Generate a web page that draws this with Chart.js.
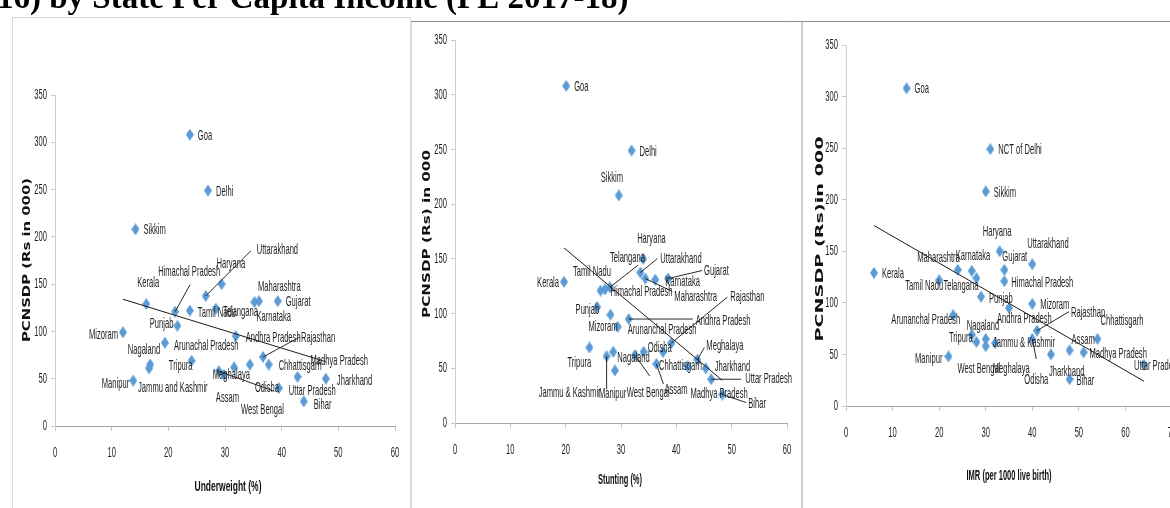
<!DOCTYPE html>
<html>
<head>
<meta charset="utf-8">
<script src="https://cdn.jsdelivr.net/npm/chart.js@4.4.1/dist/chart.umd.min.js"></script>
<style>
html, body { margin: 0; padding: 0; background: #fff; width: 1170px; height: 508px; overflow: hidden; }
canvas { position: absolute; top: 0; }
</style>
</head>
<body>
<canvas id="bg" width="1170" height="508" style="left:0"></canvas>
<canvas id="c1" width="411" height="508" style="left:0"></canvas>
<canvas id="c2" width="391" height="508" style="left:411px"></canvas>
<canvas id="c3" width="380" height="508" style="left:803px"></canvas>
<script>
// 주(州)별 데이터 — 그림에서 읽은 값
const states = ['Goa', 'Delhi', 'Sikkim', 'Haryana', 'Uttarakhand', 'Gujarat', 'Maharashtra', 'Karnataka',
  'Kerala', 'Telangana', 'Tamil Nadu', 'Himachal Pradesh', 'Punjab', 'Mizoram', 'Andhra Pradesh',
  'Arunachal Pradesh', 'Rajasthan', 'Tripura', 'Odisha', 'Chhattisgarh', 'Nagaland', 'West Bengal',
  'Jammu and Kashmir', 'Meghalaya', 'Assam', 'Madhya Pradesh', 'Jharkhand', 'Manipur', 'Uttar Pradesh', 'Bihar'];
const pcnsdp = [308, 249, 208, 150, 137.5, 132, 132, 131, 129, 124, 122, 121, 106, 99, 95,
  88, 73, 69, 65, 65, 65, 62, 61, 58, 54, 52, 50, 48, 40, 26];
const underweight = [23.8, 27, 14.2, 29.4, 26.6, 39.3, 36, 35.2, 16.1, 28.4, 23.8, 21.2, 21.6, 12, 31.9,
  19.4, 36.7, 24.1, 34.4, 37.7, 16.8, 31.6, 16.6, 28.9, 29.8, 42.8, 47.8, 13.8, 39.5, 43.9];
const stunting = [20.1, 31.9, 29.6, 34, 33.5, 38.5, 34.4, 36.2, 19.7, 28, 27.1, 26.3, 25.7, 28.1, 31.4,
  29.4, 39.1, 24.3, 34.1, 37.6, 28.6, 32.5, 27.4, 43.8, 36.4, 42, 45.3, 28.9, 46.3, 48.3];
const imr = [13, 31, 30, 33, 40, 34, 24, 27, 6, 28, 20, 34, 29, 40, 35,
  23, 41, 27, 40, 54, 30, 28, 32, 30, 48, 51, 44, 22, 64, 48];

// 추세선 (양 끝점)
const trend1X = [12, 47.8], trend1Y = [134, 68];
const trend2X = [19.7, 48.3], trend2Y = [160, 39];
const trend3X = [6, 64], trend3Y = [175, 24];

const yTicks = [0, 50, 100, 150, 200, 250, 300, 350];
const xTicks1 = [0, 10, 20, 30, 40, 50, 60];
const xTicks3 = [0, 10, 20, 30, 40, 50, 60, 70];

// 패널마다 라벨 이름이 조금씩 다름
const names1 = states.slice();
const names2 = states.map(s => s === 'Jammu and Kashmir' ? 'Jammu & Kashmir' : s === 'Arunachal Pradesh' ? 'Arunanchal Pradesh' : s);
const names3 = names2.map(s => s === 'Delhi' ? 'NCT of Delhi' : s);

// 라벨 위치: [정렬, dx, dy, 지시선 dx, 지시선 dy] (점 기준 픽셀)
const place1 = {
  'Haryana': ['l', -5, -20], 'Uttarakhand': ['l', 51, -46, 45, -45], 'Maharashtra': ['l', -1, -14],
  'Karnataka': ['l', 2, 15], 'Kerala': ['l', -9, -21], 'Telangana': ['l', 7, 3], 'Tamil Nadu': ['l', 8, 2],
  'Himachal Pradesh': ['l', -17, -40, 15, -27], 'Punjab': ['r', -4, -2], 'Mizoram': ['r', -5, 2],
  'Andhra Pradesh': ['l', 10, 2], 'Arunachal Pradesh': ['l', 9, 3], 'Rajasthan': ['l', 38, -19, 37, -20],
  'Tripura': ['r', 1, 5], 'Odisha': ['l', 5, 23], 'Chhattisgarh': ['l', 10, 1], 'Nagaland': ['r', 10, -15],
  'West Bengal': ['l', 7, 42], 'Jammu and Kashmir': ['l', -11, 20], 'Meghalaya': ['l', -6, 4, 55, 20],
  'Assam': ['l', -8, 23], 'Madhya Pradesh': ['l', 13, -16], 'Jharkhand': ['l', 11, 2], 'Manipur': ['r', -4, 3],
  'Uttar Pradesh': ['l', 10, 3], 'Bihar': ['l', 10, 3]
};
const place2 = {
  'Sikkim': ['l', -18, -18], 'Haryana': ['l', -6, -20], 'Uttarakhand': ['l', 20, -14, 17, -14],
  'Gujarat': ['l', 36, -8, 34, -8], 'Maharashtra': ['l', 29, 18, 27, 13], 'Karnataka': ['l', 10, 2],
  'Kerala': ['r', -5, 1], 'Telangana': ['l', 0, -29, 28, -22], 'Tamil Nadu': ['l', -32, -18],
  'Himachal Pradesh': ['l', 10, 1], 'Punjab': ['r', 2, 3], 'Mizoram': ['r', 7, 12], 'Arunachal Pradesh': ['l', 10, 3],
  'Andhra Pradesh': ['l', 67, 2, 64, 0], 'Rajasthan': ['l', 59, -46, 56, -46], 'Meghalaya': ['l', 9, -14, 7, -12],
  'Jharkhand': ['l', 9, -1], 'Uttar Pradesh': ['l', 34, 0, 30, 0], 'Bihar': ['l', 26, 9, 24, 8],
  'Madhya Pradesh': ['l', 3, 28], 'Chhattisgarh': ['l', -4, 14], 'Odisha': ['l', 4, -4],
  'Assam': ['l', 8, 26, 7, 20], 'West Bengal': ['l', -8, 38, 15, 21], 'Nagaland': ['l', 4, 6],
  'Jammu and Kashmir': ['r', -6, 37, 0, 33], 'Manipur': ['l', -16, 23], 'Tripura': ['l', -22, 15]
};
const place3 = {
  'Haryana': ['l', -17, -19], 'Uttarakhand': ['l', -5, -20], 'Gujarat': ['l', -2, -13], 'Maharashtra': ['r', 2, -12],
  'Karnataka': ['l', -16, -15], 'Telangana': ['r', 2, 8], 'Tamil Nadu': ['r', 4, 6], 'Himachal Pradesh': ['l', 7, 2],
  'Punjab': ['l', 8, 2], 'Mizoram': ['l', 8, 1], 'Andhra Pradesh': ['l', -12, 11], 'Arunachal Pradesh': ['r', 7, 5],
  'Rajasthan': ['l', 34, -18, 32, -19], 'Chhattisgarh': ['l', 3, -18], 'Nagaland': ['l', -19, -13],
  'Tripura': ['r', 1, 3], 'Jammu and Kashmir': ['l', -2, 0], 'West Bengal': ['l', -19, 27], 'Meghalaya': ['l', 7, 23],
  'Manipur': ['r', -6, 2], 'Odisha': ['l', -8, 41, 4, 20], 'Jharkhand': ['l', -2, 17], 'Assam': ['l', 2, -10],
  'Bihar': ['l', 7, 2], 'Madhya Pradesh': ['l', 6, 1], 'Uttar Pradesh': ['l', -10, 1]
};

const NARROW = '"Liberation Sans Narrow", "Liberation Sans", Arial, sans-serif';
const LABEL_FONT = '15px ' + NARROW;

// Calibri 느낌을 내기 위해 가로로 압축
const mctx = document.createElement('canvas').getContext('2d');
mctx.font = LABEL_FONT;
const SX = 62 / mctx.measureText('Himachal Pradesh').width;

function txt(ctx, s, x, y, align, font, sx, color) {
  ctx.save();
  ctx.font = font;
  ctx.fillStyle = color || '#1f1f1f';
  ctx.textAlign = align;
  ctx.textBaseline = 'middle';
  ctx.translate(x, y);
  ctx.scale(sx, 1);
  ctx.fillText(s, 0, 0);
  ctx.restore();
}

function fitWidth(s, font, w) {
  mctx.font = font;
  return w / mctx.measureText(s).width;
}

// 세로로 긴 다이아몬드 마커
const dia = document.createElement('canvas');
dia.width = 8; dia.height = 12;
(function () {
  const d = dia.getContext('2d');
  d.fillStyle = '#5B9BD5';
  d.beginPath();
  d.moveTo(4, 0); d.lineTo(8, 6); d.lineTo(4, 12); d.lineTo(0, 6);
  d.closePath(); d.fill();
})();

const overlay = {
  id: 'overlay',
  afterDraw(chart, args, o) {
    const ctx = chart.ctx;
    const xs = chart.scales.x, ys = chart.scales.y, ca = chart.chartArea;
    // 눈금 라벨
    o.yTicks.forEach(v => txt(ctx, String(v), ca.left - 8, ys.getPixelForValue(v), 'right', LABEL_FONT, SX));
    o.xTicks.forEach(v => txt(ctx, String(v), xs.getPixelForValue(v), ca.bottom + 27, 'center', LABEL_FONT, SX));
    // 축 제목
    const xf = 'bold 15px ' + NARROW;
    txt(ctx, o.xTitle, (ca.left + ca.right) / 2 + o.xTitleDx, ca.bottom + o.xTitleDy, 'center', xf,
      fitWidth(o.xTitle, xf, o.xTitleW), '#111');
    const yf = 'bold 10px "DejaVu Sans", Verdana, sans-serif';
    ctx.save();
    ctx.translate(o.yTitleX, o.yTitleY);
    ctx.rotate(-Math.PI / 2);
    txt(ctx, o.yTitle, 0, 0, 'center', yf, fitWidth(o.yTitle, yf, o.yTitleW), '#111');
    ctx.restore();
    // 데이터 라벨
    const meta = chart.getDatasetMeta(1);
    meta.data.forEach((pt, i) => {
      const p = o.place[states[i]] || ['l', 8, 1];
      if (p.length > 3) {
        ctx.save();
        ctx.strokeStyle = '#111';
        ctx.lineWidth = 0.9;
        ctx.beginPath();
        ctx.moveTo(pt.x, pt.y);
        ctx.lineTo(pt.x + p[3], pt.y + p[4]);
        ctx.stroke();
        ctx.restore();
      }
      txt(ctx, o.names[i], pt.x + p[1], pt.y + p[2], p[0] === 'r' ? 'right' : 'left', LABEL_FONT, SX);
    });
  }
};

function axis(max, color, horizontal) {
  return {
    type: 'linear', min: 0, max: max,
    ticks: { display: false, stepSize: horizontal ? 10 : 50 },
    grid: { display: true, drawOnChartArea: false, drawTicks: true, tickLength: horizontal ? 5 : 4, color: '#c8c8c8' },
    border: { display: true, color: color, width: 1 },
    afterFit(s) { if (horizontal) s.height = 0; else s.width = 0; }
  };
}

function makeChart(id, xVals, tx, ty, xMax, xTicks, padding, extra) {
  return new Chart(document.getElementById(id), {
    type: 'scatter',
    data: {
      datasets: [
        {
          type: 'line', order: 0,
          data: tx.map((v, i) => ({ x: v, y: ty[i] })),
          borderColor: '#1a1a1a', borderWidth: 1, pointRadius: 0, fill: false
        },
        {
          order: 1,
          data: xVals.map((v, i) => ({ x: v, y: pcnsdp[i] })),
          pointStyle: dia, pointRadius: 5
        }
      ]
    },
    options: {
      responsive: false, animation: false, events: [],
      layout: { padding: padding },
      plugins: { legend: { display: false }, tooltip: { enabled: false }, overlay: Object.assign({ yTicks, xTicks }, extra) },
      scales: { x: axis(xMax, '#a6a6a6', true), y: axis(350, '#d0d0d0', false) }
    },
    plugins: [overlay]
  });
}

// 배경: 잘린 제목과 패널 테두리
(function () {
  const c = document.getElementById('bg').getContext('2d');
  c.fillStyle = '#000';
  c.font = 'bold 33px "Liberation Serif", "Times New Roman", serif';
  c.textBaseline = 'alphabetic';
  c.fillText('16) by State Per Capita Income (PE 2017-18)', -3, 8);
  c.strokeStyle = '#d9d9d9';
  c.lineWidth = 1;
  c.strokeRect(12.5, 17.5, 398, 520);
  c.strokeStyle = '#8c8c8c';
  c.beginPath(); c.moveTo(411, 21.5); c.lineTo(1170, 21.5); c.stroke();
  c.strokeStyle = '#d9d9d9';
  c.beginPath(); c.moveTo(411.5, 22); c.lineTo(411.5, 508); c.stroke();
  c.strokeStyle = '#cfcfcf';
  c.lineWidth = 2;
  c.beginPath(); c.moveTo(802, 22); c.lineTo(802, 508); c.stroke();
})();

makeChart('c1', underweight, trend1X, trend1Y, 60, xTicks1,
  { left: 55, right: 16, top: 95, bottom: 82 },
  { names: names1, place: place1, xTitle: 'Underweight (%)', xTitleW: 67, xTitleDx: 3, xTitleDy: 61,
    yTitle: 'PCNSDP (Rs in 000)', yTitleX: 27, yTitleY: 260, yTitleW: 164 });

makeChart('c2', stunting, trend2X, trend2Y, 60, xTicks1,
  { left: 44, right: 15, top: 40, bottom: 85 },
  { names: names2, place: place2, xTitle: 'Stunting (%)', xTitleW: 44, xTitleDx: -1, xTitleDy: 57,
    yTitle: 'PCNSDP (Rs) in 000', yTitleX: 16, yTitleY: 234, yTitleW: 168 });

makeChart('c3', imr, trend3X, trend3Y, 70, xTicks3,
  { left: 43, right: 11, top: 45, bottom: 102 },
  { names: names3, place: place3, xTitle: 'IMR (per 1000 live birth)', xTitleW: 85, xTitleDx: 0, xTitleDy: 70,
    yTitle: 'PCNSDP (Rs)in 000', yTitleX: 17, yTitleY: 239, yTitleW: 205 });
</script>
</body>
</html>
